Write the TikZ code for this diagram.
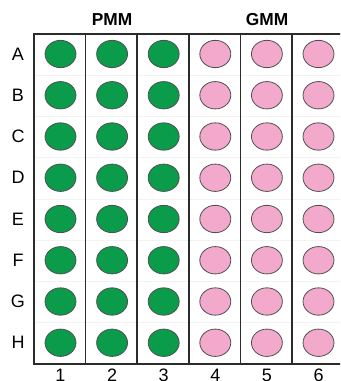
\documentclass[tikz,border=0pt]{standalone}
\usepackage{fontspec}
\setmainfont{Liberation Sans}
\usetikzlibrary{positioning,shapes.geometric}
\definecolor{ink}{HTML}{2B2B2B}
\definecolor{rowline}{HTML}{F3F3F3}
\definecolor{pmmfill}{HTML}{0A9B4B}
\definecolor{gmmfill}{HTML}{F3A9CB}
\definecolor{rimline}{HTML}{505050}

\begin{document}
\begin{tikzpicture}[x=0.75pt,y=-0.75pt,font=\fontsize{13.5}{15}\selectfont,
  well/.style={ellipse,draw=rimline,line width=0.6pt,minimum width=23.2pt,minimum height=20.5pt,inner sep=0pt},
  pmmwell/.style={well,fill=pmmfill},
  gmmwell/.style={well,fill=gmmfill},
  grp/.style={font=\fontsize{13}{15}\selectfont\bfseries}]
  \useasboundingbox (0,0) rectangle (340,381);
  \clip (0,0) rectangle (340,381);
  % faint row separators
  \foreach \r in {1,...,7}{\draw[rowline,line width=0.6pt] (34,34+41.25*\r) -- (345,34+41.25*\r);}
  % plate frame
  \draw[ink,line width=1.2pt] (345,34) -- (34,34) -- (34,364) -- (345,364);
  \foreach \c in {1,...,5}{\draw[ink,line width=1.2pt] (34+51.6*\c,34) -- (34+51.6*\c,364);}
  % wells
  \foreach \r [count=\i] in {A,B,C,D,E,F,G,H}{
    \node (row\r) at (18,54+41.25*\i-41.25) {\r};
    \foreach \c in {1,2,3}{\node[pmmwell] (w\r\c) at (60.5+51.6*\c-51.6,54+41.25*\i-41.25) {};}
    \foreach \c in {4,5,6}{\node[gmmwell] (w\r\c) at (60.5+51.6*\c-51.6,54+41.25*\i-41.25) {};}
  }
  \foreach \c in {1,...,6}{\node[anchor=north,inner sep=0pt] (col\c) at (60.5+51.6*\c-51.6,369) {\c};}
  \node[grp] (pmm) at (112,20) {PMM};
  \node[grp] (gmm) at (267,20) {GMM};
\end{tikzpicture}
\end{document}
